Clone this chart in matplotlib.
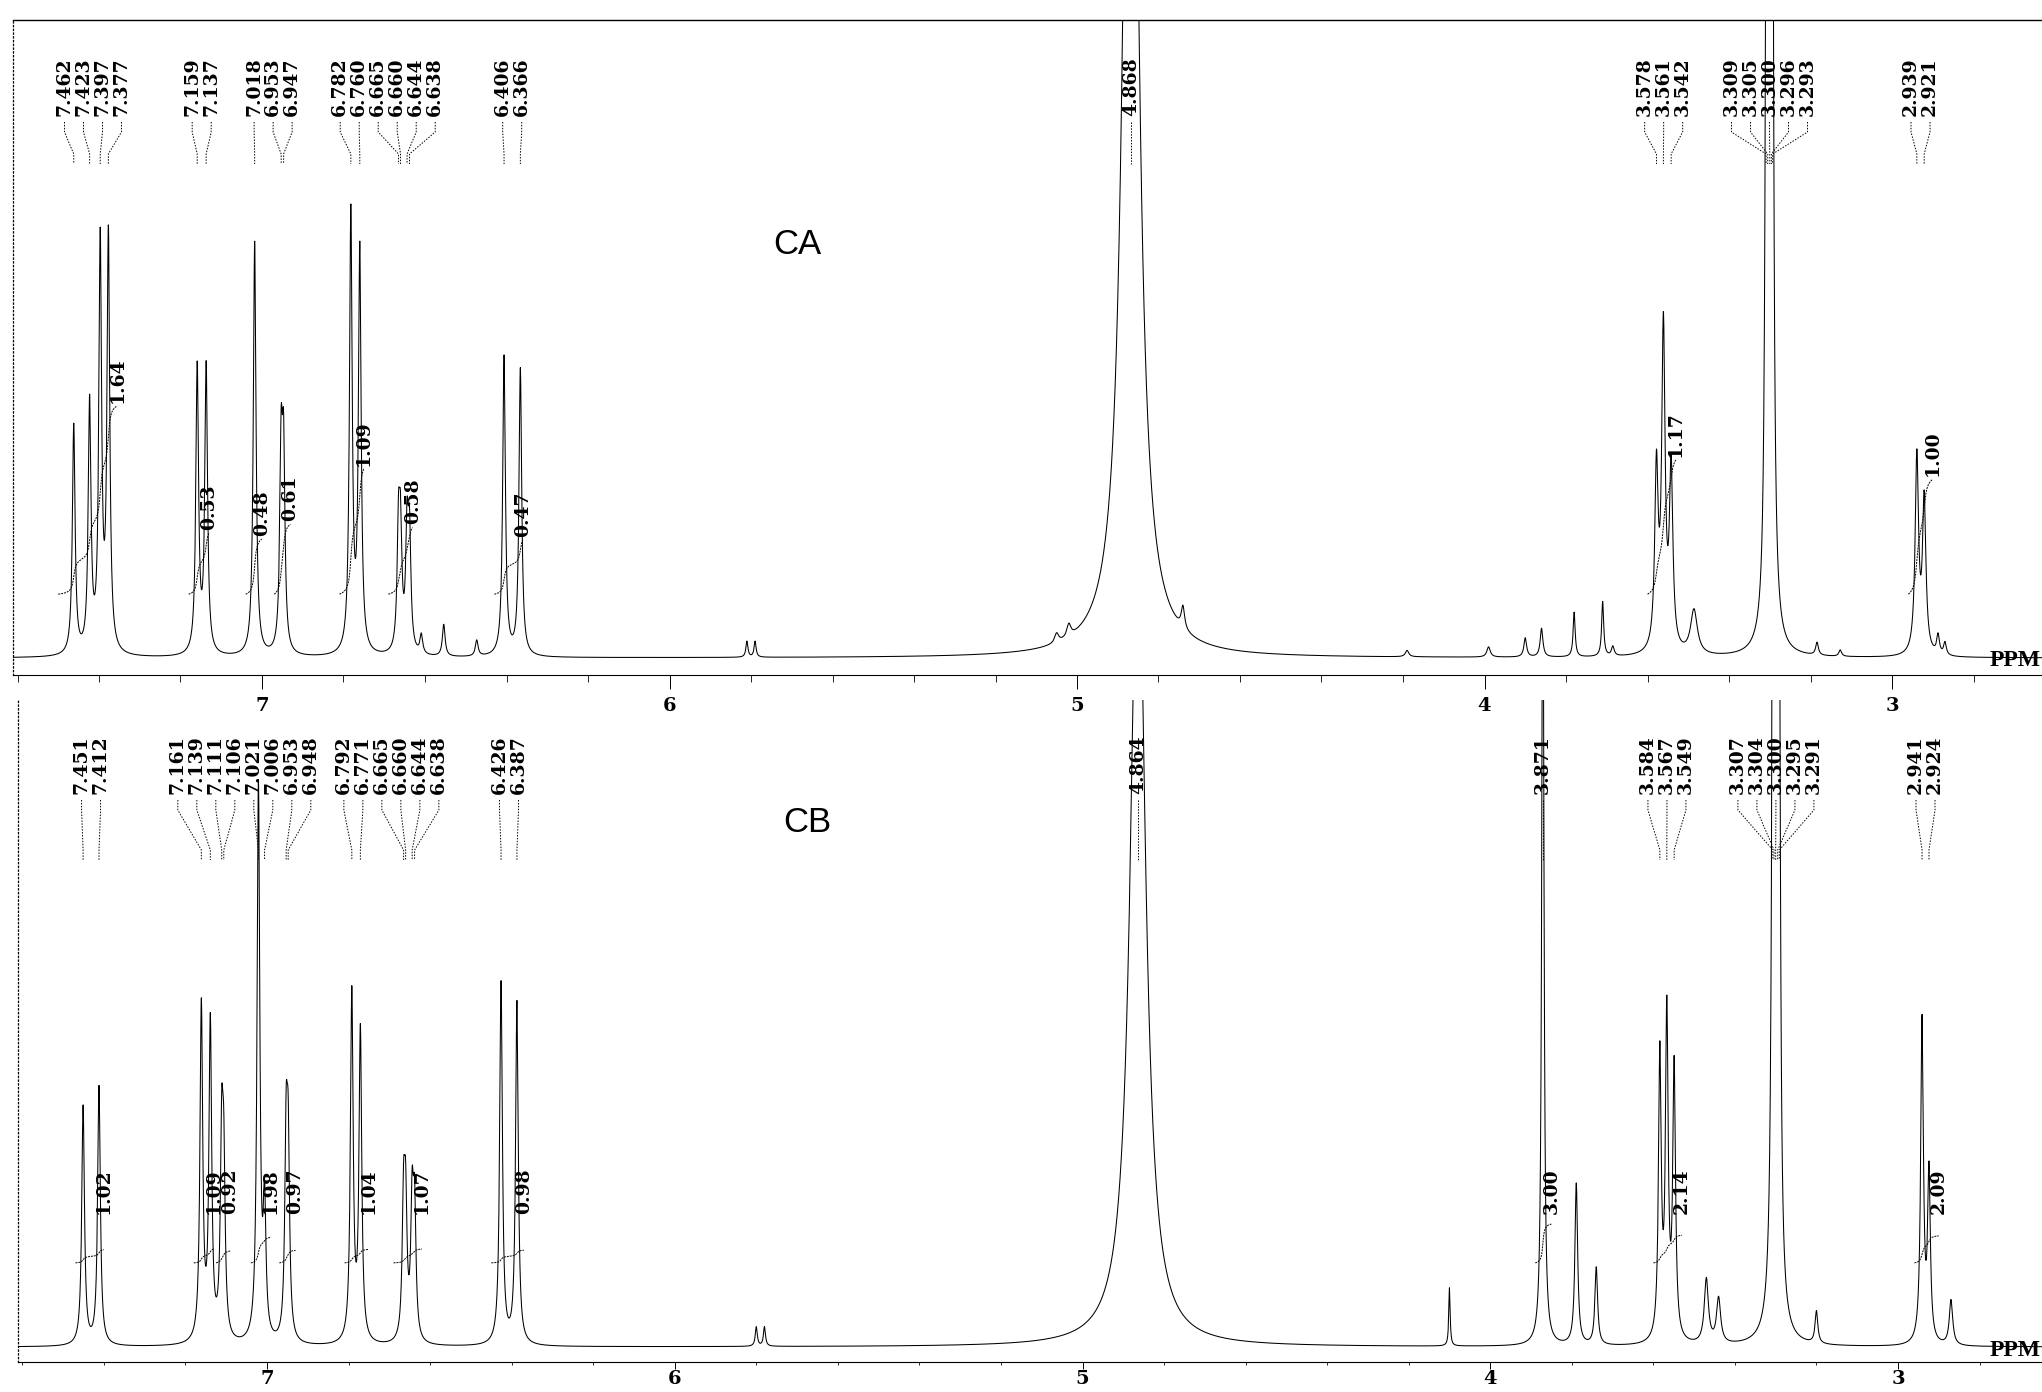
import numpy as np
import matplotlib
matplotlib.use("Agg")
import matplotlib.pyplot as plt
from matplotlib.ticker import MultipleLocator

# ---------------- data ----------------
tick_values = [7, 6, 5, 4, 3]
tick_labels = ["7", "6", "5", "4", "3"]

# CA spectrum: labelled peak list
ca_label_ppm = [7.462, 7.423, 7.397, 7.377, 7.159, 7.137, 7.018, 6.953, 6.947,
                6.782, 6.760, 6.665, 6.660, 6.644, 6.638, 6.406, 6.366, 4.868,
                3.578, 3.561, 3.542, 3.309, 3.305, 3.300, 3.296, 3.293, 2.939, 2.921]
# CA lines used to draw the trace (ppm, relative height %, half width ppm)
ca_peak_ppm = [7.462, 7.423, 7.397, 7.377, 7.159, 7.137, 7.018, 6.953, 6.947,
               6.782, 6.760, 6.665, 6.660, 6.644, 6.638, 6.609, 6.554, 6.473,
               6.406, 6.366, 5.810, 5.790, 5.050, 5.020, 4.868, 4.740, 4.190,
               3.990, 3.900, 3.860, 3.780, 3.710, 3.685, 3.578, 3.561, 3.542,
               3.486, 3.309, 3.305, 3.300, 3.296, 3.293, 3.184, 3.127, 2.939,
               2.921, 2.887, 2.870]
ca_peak_height = [36, 39, 64, 65, 45, 45, 65, 30, 29,
                  69, 63, 18, 17, 18, 17, 3, 5, 2.5,
                  47, 45, 2.5, 2.5, 1.5, 2, 200, 3.5, 1,
                  1.6, 3, 4.5, 7, 8.6, 1.5, 28, 50, 28,
                  7, 60, 120, 250, 120, 60, 2, 1, 31,
                  24, 3, 2]
ca_peak_width = [0.004, 0.004, 0.004, 0.004, 0.004, 0.004, 0.004, 0.004, 0.004,
                 0.004, 0.004, 0.004, 0.004, 0.004, 0.004, 0.004, 0.004, 0.004,
                 0.004, 0.004, 0.003, 0.003, 0.006, 0.006, 0.020, 0.005, 0.005,
                 0.005, 0.004, 0.004, 0.003, 0.003, 0.004, 0.005, 0.005, 0.005,
                 0.010, 0.003, 0.003, 0.003, 0.003, 0.003, 0.004, 0.004, 0.005,
                 0.005, 0.004, 0.004]
ca_int_start = [7.50, 7.18, 7.04, 6.97, 6.81, 6.69, 6.43, 3.60, 2.96]
ca_int_end = [7.355, 7.13, 7.00, 6.93, 6.75, 6.63, 6.36, 3.53, 2.90]
ca_int_value = [1.64, 0.53, 0.48, 0.61, 1.09, 0.58, 0.47, 1.17, 1.00]

# CB spectrum
cb_label_ppm = [7.451, 7.412, 7.161, 7.139, 7.111, 7.106, 7.021, 7.006, 6.953,
                6.948, 6.792, 6.771, 6.665, 6.660, 6.644, 6.638, 6.426, 6.387,
                4.864, 3.871, 3.584, 3.567, 3.549, 3.307, 3.304, 3.300, 3.295,
                3.291, 2.941, 2.924]
cb_peak_ppm = [7.451, 7.412, 7.161, 7.139, 7.111, 7.106, 7.021, 7.006, 6.953,
               6.948, 6.792, 6.771, 6.665, 6.660, 6.644, 6.638, 6.426, 6.387,
               5.800, 5.780, 4.864, 4.100, 3.871, 3.789, 3.740, 3.584, 3.567,
               3.549, 3.470, 3.440, 3.307, 3.304, 3.300, 3.295, 3.291, 3.200,
               2.941, 2.924, 2.870]
cb_peak_height = [37, 40, 52, 49, 29, 24, 86, 20, 29,
                  27, 54, 48, 20, 19, 20, 19, 56, 53,
                  3, 3, 130, 9, 140, 25, 12, 44, 50,
                  42, 10, 7, 60, 120, 250, 120, 60, 5,
                  50, 26, 7]
cb_peak_width = [0.004, 0.004, 0.004, 0.004, 0.004, 0.004, 0.004, 0.004, 0.004,
                 0.004, 0.004, 0.004, 0.004, 0.004, 0.004, 0.004, 0.004, 0.004,
                 0.003, 0.003, 0.022, 0.002, 0.003, 0.004, 0.004, 0.004, 0.004,
                 0.004, 0.006, 0.006, 0.003, 0.003, 0.003, 0.003, 0.003, 0.004,
                 0.004, 0.004, 0.005]
cb_int_start = [7.47, 7.18, 7.125, 7.04, 6.97, 6.81, 6.69, 6.45, 3.89, 3.60, 2.96]
cb_int_end = [7.40, 7.13, 7.09, 6.99, 6.93, 6.75, 6.62, 6.37, 3.85, 3.53, 2.90]
cb_int_value = [1.02, 1.09, 0.92, 1.98, 0.97, 1.04, 1.07, 0.98, 3.00, 2.14, 2.09]

# ---------------- helpers ----------------
W, H = 2042, 1392
fig = plt.figure(figsize=(W / 100, H / 100), dpi=100)
fig.patch.set_facecolor("white")

SERIF = ["DejaVu Serif"]
LABEL_FS = 13.5
SPACING_PX = 19.0


def spectrum(x, ppm, height, width):
    y = np.zeros_like(x)
    for p, h, w in zip(ppm, height, width):
        y += h / (1.0 + ((x - p) / w) ** 2)
    return y


def spread_labels(ppms, spacing):
    vals = sorted(ppms, reverse=True)
    groups = [[v] for v in vals]

    def positions(g):
        c = np.mean(g)
        n = len(g)
        return [c + spacing * ((n - 1) / 2 - i) for i in range(n)]

    changed = True
    while changed:
        changed = False
        for i in range(len(groups) - 1):
            a = positions(groups[i])
            b = positions(groups[i + 1])
            if a[-1] - b[0] < spacing * 0.999:
                groups[i] = groups[i] + groups[i + 1]
                del groups[i + 1]
                changed = True
                break
    out = []
    for g in groups:
        out.extend(zip(g, positions(g)))
    return out


def make_panel(px_left, px_top, px_spine, px_base, x7, x3, ppm_pk, h_pk, w_pk,
               labels, lab_top, lab_len, lead, ints, int_mode, name, name_xy,
               tick_len, tick_pad):
    ppm_per_px = (7 - 3) / (x3 - x7)
    left_ppm = 7 + (x7 - px_left) * ppm_per_px
    right_ppm = 7 - (W - x7) * ppm_per_px
    unit = (px_base - px_top) / 100.0
    ybot = -(px_spine - px_base) / unit
    ax = fig.add_axes([px_left / W, 1 - px_spine / H, (W - px_left) / W,
                       (px_spine - px_top) / H])
    ax.set_xlim(left_ppm, right_ppm)
    ax.set_ylim(ybot, 100)
    ax.set_facecolor("none")

    x = np.arange(right_ppm, left_ppm, 0.0004)
    y = spectrum(x, ppm_pk, h_pk, w_pk)
    ax.plot(x, y, color="black", lw=0.75)

    def fy(px):
        return (px_spine - px) / (px_spine - px_top)

    trans = ax.get_xaxis_transform()
    spacing = SPACING_PX * ppm_per_px
    for peak, pos in spread_labels(labels, spacing):
        ax.text(pos, fy(lab_top), f"{peak:.3f}", rotation=90, ha="center",
                va="top", transform=trans, fontsize=LABEL_FS,
                family=SERIF, fontweight="bold", color="black")
        l0 = lab_top + lab_len + 5
        ys = [fy(l0), fy(l0 + lead[0]), fy(l0 + lead[1]), fy(l0 + lead[2])]
        ax.plot([pos, pos, peak, peak], ys, transform=trans, color="black",
                lw=0.7, ls=(0, (1.5, 1.5)), clip_on=False)

    starts, ends, vals = ints
    for a, b, v in zip(starts, ends, vals):
        m = (x <= a) & (x >= b)
        xs = x[m][::-1]
        ys = y[m][::-1]
        cum = np.concatenate([[0], np.cumsum((ys[1:] + ys[:-1]) / 2)])
        cum = cum / cum[-1]
        if int_mode == "tall":
            y0, k = 10.0, 18.0
            yy = y0 + k * v * cum
            ylab = yy[-1] + 0.5
        else:
            y0, k = 13.0, 2.0
            yy = y0 + k * v * cum
            ylab = 20.5
        ax.plot(xs, yy, color="black", lw=0.7, ls=(0, (2, 1)))
        ax.text(b, ylab, f"{v:.2f}", rotation=90, ha="center", va="bottom",
                fontsize=LABEL_FS, family=SERIF, fontweight="bold",
                color="black")

    ax.text(name_xy[0], name_xy[1], name, transform=ax.transAxes,
            fontsize=25, family=["Liberation Sans"], ha="center",
            va="center", color="black")

    # axis cosmetics
    ax.set_xticks(tick_values)
    ax.set_xticklabels(tick_labels, family=SERIF, fontweight="bold",
                       fontsize=14)
    ax.xaxis.set_minor_locator(MultipleLocator(0.2))
    ax.tick_params(axis="x", which="major", direction="out", length=tick_len,
                   width=0.7, pad=tick_pad)
    ax.tick_params(axis="x", which="minor", direction="out",
                   length=tick_len * 0.5, width=0.6)
    ax.tick_params(axis="y", left=False, labelleft=False)
    ax.spines["right"].set_visible(False)
    ax.spines["left"].set_linestyle((0, (1, 2)))
    ax.spines["left"].set_linewidth(0.9)
    ax.spines["bottom"].set_linestyle((0, (4, 1)))
    ax.spines["bottom"].set_linewidth(0.8)

    # PPM unit text at the right end of the baseline
    fig.text(1990 / W, 1 - (px_base + 3) / H, "PPM", family=["Liberation Serif"],
             fontweight="bold", fontsize=17, ha="left", va="center")
    return ax


ax1 = make_panel(px_left=13, px_top=20, px_spine=675, px_base=658,
                 x7=262, x3=1892,
                 ppm_pk=ca_peak_ppm, h_pk=ca_peak_height, w_pk=ca_peak_width,
                 labels=ca_label_ppm, lab_top=57, lab_len=60,
                 lead=(10, 32, 42),
                 ints=(ca_int_start, ca_int_end, ca_int_value), int_mode="tall",
                 name="CA", name_xy=((797 - 13) / (W - 13), (675 - 245) / 655),
                 tick_len=10, tick_pad=6)
ax1.spines["top"].set_linewidth(1.0)

ax2 = make_panel(px_left=18, px_top=700, px_spine=1362, px_base=1347,
                 x7=267, x3=1898,
                 ppm_pk=cb_peak_ppm, h_pk=cb_peak_height, w_pk=cb_peak_width,
                 labels=cb_label_ppm, lab_top=735, lab_len=60,
                 lead=(10, 50, 60),
                 ints=(cb_int_start, cb_int_end, cb_int_value), int_mode="flat",
                 name="CB", name_xy=((807 - 18) / (W - 18), (1362 - 823) / 662),
                 tick_len=5, tick_pad=0.5)
ax2.spines["top"].set_visible(False)

fig.savefig("out.png", dpi=100, facecolor="white")
